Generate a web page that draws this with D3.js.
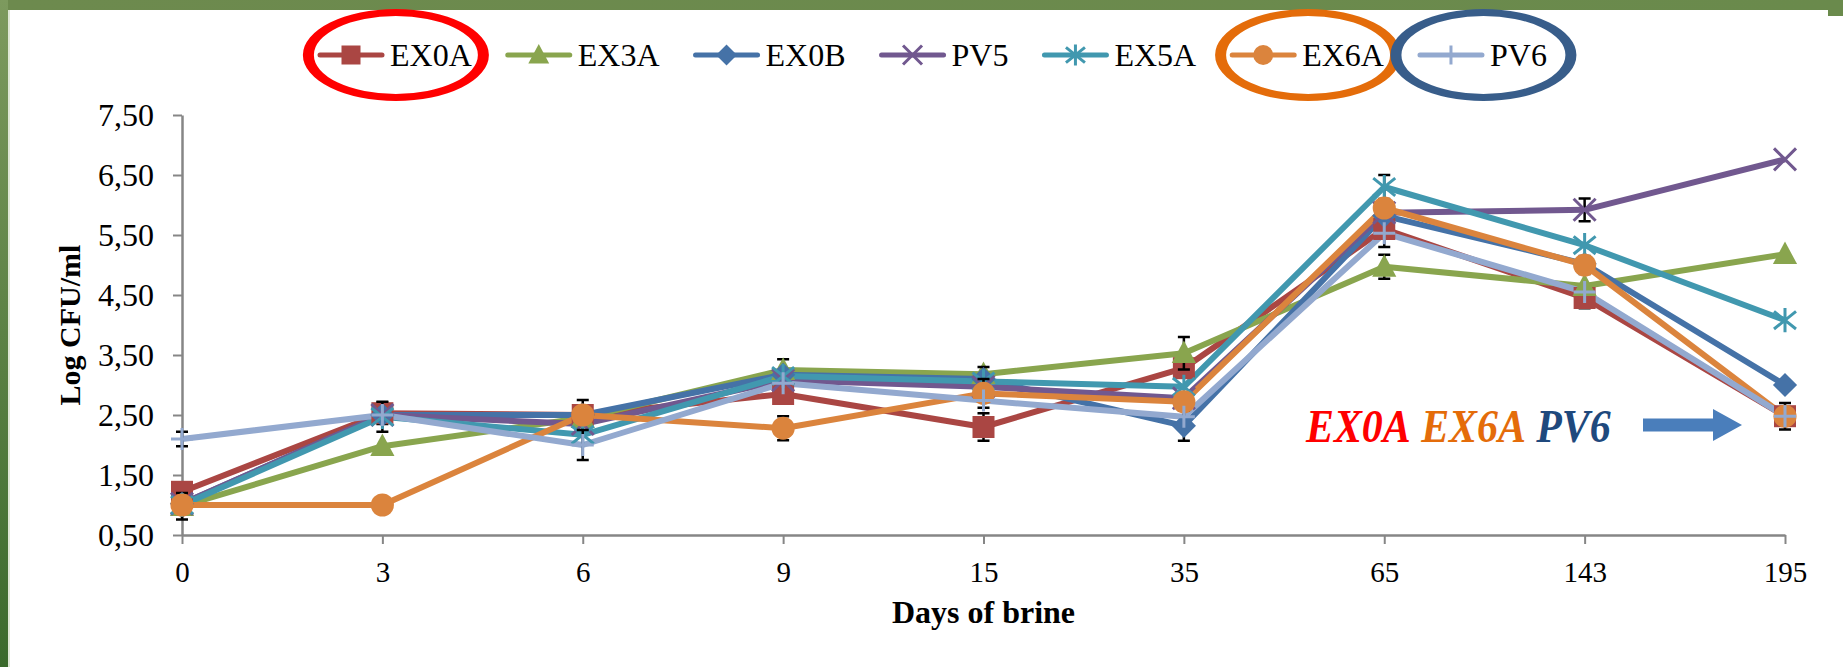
<!DOCTYPE html>
<html><head><meta charset="utf-8">
<script src="https://cdn.jsdelivr.net/npm/d3@7"></script>
<style>
html,body{margin:0;padding:0;background:#fff;}
svg{display:block;font-family:"Liberation Serif","Times New Roman",serif;}
</style></head>
<body><svg id="c" width="1843" height="667"></svg>
<script>
// ---------- data ----------
const days = ["0","3","6","9","15","35","65","143","195"];
const seriesNames = ["EX0A","EX3A","EX0B","PV5","EX5A","EX6A","PV6"];
const EX0A = [1.22, 2.53, 2.50, 2.85, 2.30, 3.28, 5.60, 4.45, 2.48];
const EX3A = [0.98, 1.98, 2.45, 3.25, 3.18, 3.53, 4.97, 4.65, 5.18];
const EX0B = [1.02, 2.50, 2.50, 3.17, 3.10, 2.32, 5.82, 5.02, 3.00];
const PV5  = [1.02, 2.50, 2.35, 3.08, 2.97, 2.78, 5.87, 5.92, 6.76];
const EX5A = [1.00, 2.47, 2.17, 3.15, 3.06, 2.97, 6.30, 5.33, 4.08];
const EX6A = [1.00, 1.00, 2.50, 2.28, 2.86, 2.72, 5.95, 5.00, 2.48];
const PV6  = [2.10, 2.50, 2.00, 3.03, 2.74, 2.47, 5.53, 4.55, 2.48];
// error bar half-widths (0 = no bar visible)
const errEX0A = [0.15, 0.18, 0.25, 0, 0.23, 0, 0.30, 0.17, 0.22];
const errEX3A = [0.22, 0, 0, 0.18, 0, 0.27, 0.20, 0, 0];
const errEX0B = [0, 0, 0, 0, 0.20, 0.25, 0, 0, 0];
const errPV5  = [0, 0, 0, 0, 0, 0, 0, 0.19, 0];
const errEX5A = [0, 0.25, 0, 0, 0, 0, 0.20, 0, 0];
const errEX6A = [0, 0, 0, 0.20, 0.24, 0, 0, 0.15, 0];
const errPV6  = [0.12, 0, 0.25, 0, 0, 0, 0, 0, 0];
const yTicks = [0.5, 1.5, 2.5, 3.5, 4.5, 5.5, 6.5, 7.5];
const annotation = [["EX0A","#ff0000"],["EX6A","#e46c0a"],["PV6","#1f497d"]];

const values = [EX0A, EX3A, EX0B, PV5, EX5A, EX6A, PV6];
const errors = [errEX0A, errEX3A, errEX0B, errPV5, errEX5A, errEX6A, errPV6];
const colors = ["#AA4643","#89A54E","#4572A7","#71588F","#4198AF","#DB843D","#93A9CF"];
const markers = ["square","triangle","diamond","x","star","circle","plus"];

// ---------- setup ----------
const svg = d3.select("#c");
const W = 1843, H = 667;
const defs = svg.append("defs");
const gl = defs.append("linearGradient").attr("id","gl").attr("x1",0).attr("y1",0).attr("x2",0).attr("y2",1);
gl.append("stop").attr("offset","0%").attr("stop-color","#7d9a5e");
gl.append("stop").attr("offset","100%").attr("stop-color","#3b6a2c");
const gt = defs.append("linearGradient").attr("id","gt").attr("x1",0).attr("y1",0).attr("x2",1).attr("y2",0);
gt.append("stop").attr("offset","0%").attr("stop-color","#6d8a4e");
gt.append("stop").attr("offset","100%").attr("stop-color","#6a8a4c");

svg.append("rect").attr("width",W).attr("height",H).attr("fill","#fff");
svg.append("rect").attr("x",0).attr("y",0).attr("width",W).attr("height",10).attr("fill","url(#gt)");
svg.append("rect").attr("x",0).attr("y",0).attr("width",8).attr("height",H).attr("fill","url(#gl)");
svg.append("rect").attr("x",8).attr("y",10).attr("width",2).attr("height",H-10).attr("fill","#dfe7d6");
svg.append("rect").attr("x",1828).attr("y",0).attr("width",15).attr("height",16).attr("fill","#6a8a4c");

const x = d3.scalePoint().domain(days).range([182, 1785]);
const y = d3.scaleLinear().domain([0.5, 7.5]).range([535, 115]);

// ---------- axes ----------
const yAxis = svg.append("g").attr("transform","translate(182,0)")
  .call(d3.axisLeft(y).tickValues(yTicks).tickSize(9).tickSizeOuter(0).tickPadding(19)
    .tickFormat(d => d.toFixed(2).replace(".", ",")));
const xAxis = svg.append("g").attr("transform","translate(0,535)")
  .call(d3.axisBottom(x).tickSize(9).tickSizeOuter(0).tickPadding(17));
[yAxis, xAxis].forEach(a => {
  a.attr("font-family","Liberation Serif, Times New Roman, serif");
  a.select(".domain").attr("stroke","#868686").attr("stroke-width",2.5);
  a.selectAll(".tick line").attr("stroke","#868686").attr("stroke-width",2);
  a.selectAll("text").attr("fill","#000").attr("font-family","Liberation Serif, Times New Roman, serif");
});
yAxis.selectAll("text").attr("font-size",32);
xAxis.selectAll("text").attr("font-size",29);

svg.append("text").attr("transform","translate(80,325) rotate(-90)")
  .attr("text-anchor","middle").attr("font-weight","bold").attr("font-size",30).text("Log CFU/ml");
svg.append("text").attr("x",(x.range()[0]+x.range()[1])/2).attr("y",623)
  .attr("text-anchor","middle").attr("font-weight","bold").attr("font-size",32).text("Days of brine");

// ---------- marker drawing ----------
function drawMarker(g, type, color, s) {
  const h = s/2;
  if (type === "square") g.append("rect").attr("x",-h).attr("y",-h).attr("width",s).attr("height",s).attr("fill",color);
  else if (type === "triangle") g.append("path").attr("d",`M0,${-h*1.15}L${h*1.1},${h*0.9}L${-h*1.1},${h*0.9}Z`).attr("fill",color);
  else if (type === "diamond") g.append("path").attr("d",`M0,${-h*1.1}L${h*1.1},0L0,${h*1.1}L${-h*1.1},0Z`).attr("fill",color);
  else if (type === "circle") g.append("circle").attr("r",h*1.05).attr("fill",color);
  else if (type === "x") g.append("path").attr("d",`M${-h},${-h}L${h},${h}M${-h},${h}L${h},${-h}`).attr("stroke",color).attr("stroke-width",3).attr("fill","none");
  else if (type === "star") g.append("path").attr("d",`M${-h},${-h*0.8}L${h},${h*0.8}M${-h},${h*0.8}L${h},${-h*0.8}M0,${-h*1.1}V${h*1.1}`).attr("stroke",color).attr("stroke-width",3).attr("fill","none");
  else if (type === "plus") g.append("path").attr("d",`M${-h},0H${h}M0,${-h}V${h}`).attr("stroke",color).attr("stroke-width",3).attr("fill","none");
}

// ---------- series ----------
const line = d3.line().x((d,i) => x(days[i])).y(d => y(d));
const plot = svg.append("g");
values.forEach((vals, si) => {
  plot.append("path").datum(vals).attr("d", line).attr("fill","none")
    .attr("stroke", colors[si]).attr("stroke-width",6).attr("stroke-linejoin","round");
});
values.forEach((vals, si) => {
  const eg = plot.append("g");
  vals.forEach((v, i) => {
    const e = errors[si][i];
    if (!e) return;
    const cx = x(days[i]);
    eg.append("path").attr("d",`M${cx},${y(v+e)}V${y(v-e)}M${cx-6},${y(v+e)}H${cx+6}M${cx-6},${y(v-e)}H${cx+6}`)
      .attr("stroke","#000").attr("stroke-width",2.5).attr("fill","none");
  });
  vals.forEach((v, i) => {
    const g = plot.append("g").attr("transform",`translate(${x(days[i])},${y(v)})`);
    drawMarker(g, markers[si], colors[si], 22);
  });
});

// ---------- legend ----------
const leg = svg.append("g");
let lx = 320;
const legY = 55;
const legendPos = [];
seriesNames.forEach((name, si) => {
  const g = leg.append("g");
  g.append("line").attr("x1",lx).attr("x2",lx+62).attr("y1",legY).attr("y2",legY)
    .attr("stroke",colors[si]).attr("stroke-width",5).attr("stroke-linecap","round");
  const mg = g.append("g").attr("transform",`translate(${lx+31},${legY})`);
  drawMarker(mg, markers[si], colors[si], 19);
  const t = g.append("text").attr("x",lx+70).attr("y",legY).attr("dy","0.34em")
    .attr("font-size",32).text(name);
  const w = t.node().getComputedTextLength();
  legendPos.push([lx, lx+70+w]);
  lx = lx + 70 + w + 36;
});

// ---------- ellipses highlighting EX0A, EX6A, PV6 ----------
function ring(cx, cy, color) {
  const ell = (rx, ry) => `M${cx-rx},${cy}a${rx},${ry} 0 1,0 ${2*rx},0a${rx},${ry} 0 1,0 ${-2*rx},0Z`;
  svg.append("path").attr("d", ell(93,46) + ell(82,39)).attr("fill",color).attr("fill-rule","evenodd");
}
const hl = [[0,"#ff0000"],[5,"#e46c0a"],[6,"#385d8a"]];
hl.forEach(([si, col]) => {
  const [a, b] = legendPos[si];
  ring((a+b)/2, 55, col);
});

// ---------- annotation ----------
const ann = svg.append("text").attr("transform","translate(1306,442) scale(0.91,1)").attr("font-size",46)
  .attr("font-weight","bold").attr("font-style","italic");
annotation.forEach(([t, c], i) => {
  ann.append("tspan").attr("fill", c).text((i ? " " : "") + t);
});
svg.append("path").attr("d","M1643,418.5H1713V409L1742,425L1713,441V431.5H1643Z").attr("fill","#4a7ebb");
</script></body></html>
